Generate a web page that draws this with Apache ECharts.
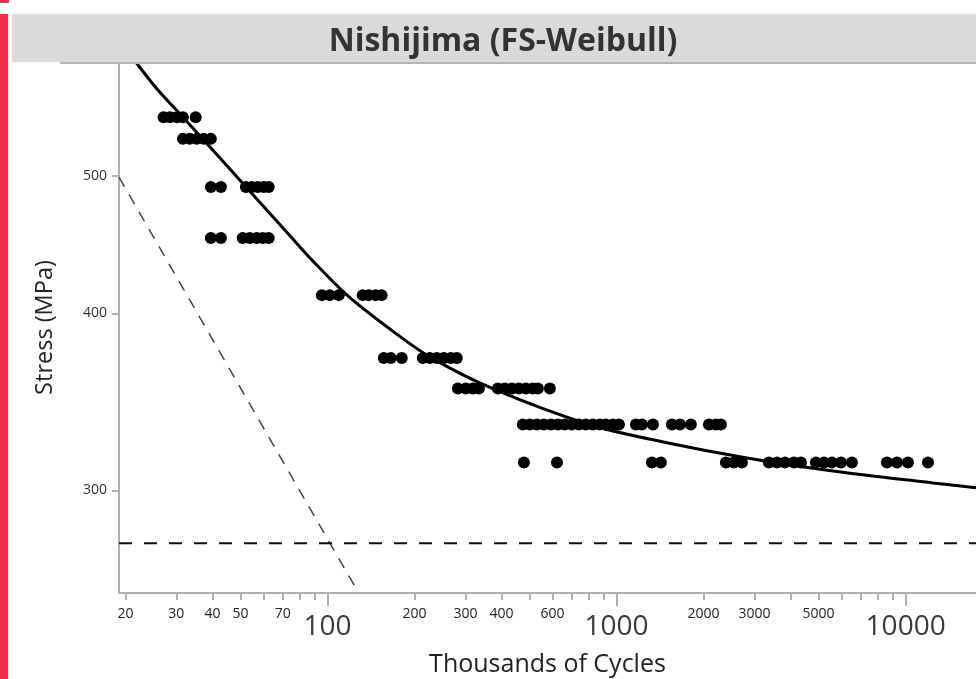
<!DOCTYPE html>
<html>
<head>
<meta charset="utf-8">
<script src="https://cdn.jsdelivr.net/npm/echarts@6/dist/echarts.min.js"></script>
<style>
html,body{margin:0;padding:0;background:#fff;}
#chart{width:976px;height:679px;}
</style>
</head>
<body>
<div id="chart"></div>
<script>
// ---- data ----
const titleText = 'Nishijima (FS-Weibull)';
const xName = 'Thousands of Cycles';
const yName = 'Stress (MPa)';

const xMajorTicks = [100, 1000, 10000];
const xMinorTicks = [20, 30, 40, 50, 60, 70, 80, 90, 200, 300, 400, 500, 600, 700, 800, 900, 2000, 3000, 4000, 5000, 6000, 7000, 8000, 9000];
const xMinorLabels = [20, 30, 40, 50, 70, 200, 300, 400, 600, 2000, 3000, 5000];
const yTicks = [300, 400, 500];

const stressLevels = [550, 531, 491, 452, 412, 372, 354, 334, 314];
const cyclesAt550 = [27.1, 28.5, 30.1, 31.6, 35.0];
const cyclesAt531 = [31.6, 33.4, 35.3, 37.3, 39.5];
const cyclesAt491 = [39.5, 42.8, 52.2, 54.7, 57.4, 60.2, 62.6];
const cyclesAt452 = [39.5, 42.8, 50.9, 53.8, 56.9, 59.7, 62.6];
const cyclesAt412 = [95.6, 101.8, 109.4, 132.4, 139.0, 146.8, 153.9];
const cyclesAt372 = [156.6, 165.6, 180.7, 213.7, 225.9, 238.9, 252.6, 267.1, 280.2];
const cyclesAt354 = [282.4, 301.0, 318.3, 333.9, 388.5, 410.8, 434.3, 459.2, 485.7, 513.3, 534.2, 587.8];
const cyclesAt334 = [474, 501, 530, 560, 593, 627, 662, 700, 741, 783, 828, 875, 918, 971, 1019, 1167, 1224, 1336, 1554, 1656, 1807, 2087, 2206, 2296];
const cyclesAt314 = [478, 622, 1325, 1423, 2389, 2546, 2714, 3365, 3587, 3823, 4107, 4343, 4893, 5216, 5559, 5973, 6520, 8616, 9331, 10186, 11947];
const cyclesByLevel = [cyclesAt550, cyclesAt531, cyclesAt491, cyclesAt452, cyclesAt412, cyclesAt372, cyclesAt354, cyclesAt334, cyclesAt314];

const curveCycles = [21.71, 25.86, 31.57, 37.03, 52.16, 75.24, 88.24, 116.6, 164.3, 225.9, 373.3, 808.3, 1493, 2824, 5603, 12430, 17515];
const curveStress = [601.6, 575.0, 550.3, 530.9, 491.3, 452.2, 436.3, 412.2, 390.0, 372.7, 353.9, 333.8, 324.2, 316.3, 309.7, 303.7, 301.3];

const refCycles = [19, 124];
const refStress = [499, 257];
const limitCycles = [19, 17515];
const limitStress = [275.4, 275.4];

const xMin = 19, xMax = 17515, yMin = 254, yMax = 601.6;

// ---- build ----
const points = [];
stressLevels.forEach((s, i) => cyclesByLevel[i].forEach(c => points.push([c, s])));
const curve = curveCycles.map((c, i) => [c, curveStress[i]]);
const ref = refCycles.map((c, i) => [c, refStress[i]]);
const limit = limitCycles.map((c, i) => [c, limitStress[i]]);

const FONT = '"Open Sans", "Noto Sans", sans-serif';
const chart = echarts.init(document.getElementById('chart'), null, {renderer: 'canvas'});
chart.setOption({
  animation: false,
  backgroundColor: '#fff',
  grid: {left: 119, right: 0, top: 62, bottom: 86, containLabel: false, outerBoundsMode: 'none'},
  graphic: [
    {type: 'rect', left: 0, top: 14, shape: {width: 8, height: 665}, style: {fill: '#ec3049'}, z: 10},
    {type: 'rect', left: 0, top: 0, shape: {width: 9, height: 3}, style: {fill: '#ec3049'}, z: 10},
    {type: 'rect', left: 12, top: 14, shape: {width: 964, height: 48}, style: {fill: '#dadada'}, z: 10},
    {type: 'rect', left: 60, top: 62, shape: {width: 916, height: 2}, style: {fill: '#b4b4b4'}, z: 10},
    {type: 'text', x: 503, y: 42, style: {text: titleText, font: '700 32px ' + FONT, fill: '#333', textAlign: 'center', textVerticalAlign: 'middle'}, z: 11}
  ],
  xAxis: [
    {
      type: 'log', logBase: 10, min: xMin, max: xMax, position: 'bottom',
      name: xName, nameLocation: 'middle', nameGap: 59,
      nameTextStyle: {fontFamily: FONT, fontSize: 25, color: '#222'},
      axisLine: {show: true, lineStyle: {color: '#b0b0b0', width: 2}},
      axisTick: {show: true, length: 13, customValues: xMajorTicks, lineStyle: {color: '#b0b0b0', width: 2}},
      axisLabel: {show: true, customValues: xMajorTicks, margin: 20, fontFamily: FONT, fontSize: 28, color: '#3a3a3a', formatter: v => String(Math.round(v)), hideOverlap: false},
      splitLine: {show: false}, minorTick: {show: false}
    },
    {
      type: 'log', logBase: 10, min: xMin, max: xMax, position: 'bottom',
      axisLine: {show: false},
      axisTick: {show: true, length: 7, customValues: xMinorTicks, lineStyle: {color: '#b0b0b0', width: 2}},
      axisLabel: {show: true, customValues: xMinorLabels, margin: 14, fontFamily: FONT, fontSize: 14, color: '#222', formatter: v => String(Math.round(v)), hideOverlap: false},
      splitLine: {show: false}
    }
  ],
  yAxis: [{
    type: 'log', logBase: 10, min: yMin, max: yMax,
    name: yName, nameLocation: 'middle', nameGap: 62,
    nameTextStyle: {fontFamily: FONT, fontSize: 23.5, color: '#222'},
    axisLine: {show: true, lineStyle: {color: '#b0b0b0', width: 2}},
    axisTick: {show: true, length: 7, customValues: yTicks, lineStyle: {color: '#b0b0b0', width: 2}},
    axisLabel: {show: true, customValues: yTicks, margin: 12, fontFamily: FONT, fontSize: 14, color: '#333', formatter: v => String(Math.round(v))},
    splitLine: {show: false}
  }],
  series: [
    {type: 'line', xAxisIndex: 0, yAxisIndex: 0, data: ref, symbol: 'none', lineStyle: {color: '#444', width: 1.5, type: [11, 9]}, silent: true, z: 2},
    {type: 'line', xAxisIndex: 0, yAxisIndex: 0, data: limit, symbol: 'none', lineStyle: {color: '#111', width: 2, type: [13, 12]}, silent: true, z: 2},
    {type: 'scatter', xAxisIndex: 0, yAxisIndex: 0, data: points, symbol: 'circle', symbolSize: 12, itemStyle: {color: '#000', opacity: 1}, z: 3},
    {type: 'line', xAxisIndex: 0, yAxisIndex: 0, data: curve, symbol: 'none', smooth: 0.3, lineStyle: {color: '#000', width: 3}, z: 4}
  ]
});
</script>
</body>
</html>
